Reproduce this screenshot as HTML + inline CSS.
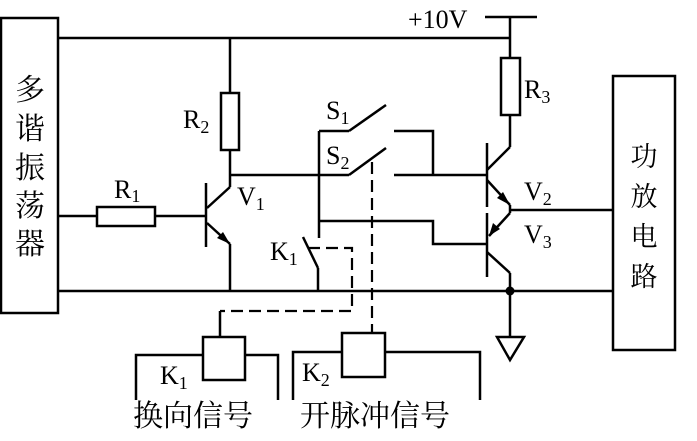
<!DOCTYPE html>
<html><head><meta charset="utf-8"><style>
html,body{margin:0;padding:0;background:#fff;}
svg{display:block;}
text{font-family:"Liberation Serif","Noto Serif CJK SC",serif;fill:#000;}
.c{font-family:"Liberation Serif","Noto Serif CJK SC","Noto Sans CJK SC",serif;}
</style></head><body>
<svg width="697" height="441" viewBox="0 0 697 441" xmlns="http://www.w3.org/2000/svg">
<g stroke="#000" stroke-width="2.5" fill="none">
<rect x="1" y="18" width="57" height="295"/>
<rect x="613" y="76" width="62" height="274"/>
<line x1="58" y1="38" x2="510" y2="38"/>
<line x1="58" y1="291" x2="613" y2="291"/>
<line x1="485" y1="17" x2="537" y2="17"/>
<line x1="510" y1="17" x2="510" y2="58"/>
<rect x="501" y="58" width="19" height="57"/>
<line x1="510" y1="115" x2="510" y2="147"/>
<line x1="58" y1="216" x2="97" y2="216"/>
<rect x="97" y="207" width="58" height="19"/>
<line x1="155" y1="216" x2="206" y2="216"/>
<line x1="206" y1="183" x2="206" y2="247"/>
<line x1="230" y1="38" x2="230" y2="93"/>
<rect x="221" y="93" width="18" height="57"/>
<line x1="230" y1="150" x2="230" y2="187"/>
<line x1="207" y1="208" x2="230" y2="187"/>
<line x1="207" y1="223" x2="230" y2="244"/>
<line x1="230" y1="244" x2="230" y2="291"/>
<line x1="230" y1="175" x2="349" y2="175"/>
<line x1="319" y1="131" x2="319" y2="238"/>
<line x1="319" y1="131" x2="349" y2="131"/>
<line x1="349" y1="131" x2="386" y2="105"/>
<line x1="349" y1="175" x2="386" y2="148"/>
<polyline points="394,131 433,131 433,175"/>
<line x1="394" y1="175" x2="487" y2="175"/>
<polyline points="319,221 433,221 433,244 487,244"/>
<line x1="303" y1="237" x2="318" y2="268"/>
<line x1="318" y1="268" x2="318" y2="291"/>
<line x1="487" y1="143" x2="487" y2="207"/>
<line x1="487" y1="213" x2="487" y2="277"/>
<line x1="487" y1="170" x2="510" y2="147"/>
<line x1="487" y1="180" x2="510" y2="205"/>
<line x1="510" y1="205" x2="510" y2="213"/>
<line x1="510" y1="213" x2="489" y2="236"/>
<line x1="510" y1="210" x2="613" y2="210"/>
<line x1="487" y1="252" x2="510" y2="273"/>
<line x1="510" y1="273" x2="510" y2="337"/>
<polygon points="497,337 524,337 510,360"/>
<rect x="203" y="337" width="42" height="43"/>
<polyline points="136,400 136,355 203,355"/>
<polyline points="245,355 278,355 278,400"/>
<line x1="220" y1="311" x2="220" y2="337"/>
<rect x="342" y="333" width="43" height="44"/>
<polyline points="293,400 293,352 342,352"/>
<polyline points="385,352 480,352 480,400"/>
</g>
<g stroke="#000" stroke-width="2.2" fill="none" stroke-dasharray="12,6">
<polyline points="308,248 352,248 352,311 220,311"/>
<line x1="372" y1="162" x2="372" y2="333"/>
</g>
<polygon points="230,244 217,238 223,232" fill="#000"/>
<polygon points="510,205 497,198 503,192" fill="#000"/>
<polygon points="489,236 493,223 500,229" fill="#000"/>
<circle cx="510" cy="291" r="4.5" fill="#000"/>
<text x="408" y="28" font-size="26">+10V</text>
<text x="114" y="198" font-size="26">R<tspan font-size="18" dy="4">1</tspan></text>
<text x="183" y="128" font-size="26">R<tspan font-size="18" dy="5">2</tspan></text>
<text x="524" y="98" font-size="26">R<tspan font-size="18" dy="5">3</tspan></text>
<text x="237" y="205" font-size="26">V<tspan font-size="18" dy="5">1</tspan></text>
<text x="524" y="200" font-size="26">V<tspan font-size="18" dy="5">2</tspan></text>
<text x="524" y="243" font-size="26">V<tspan font-size="18" dy="5">3</tspan></text>
<text x="326" y="119" font-size="26">S<tspan font-size="18" dy="5">1</tspan></text>
<text x="326" y="164" font-size="26">S<tspan font-size="18" dy="5">2</tspan></text>
<text x="270" y="260" font-size="26">K<tspan font-size="18" dy="5">1</tspan></text>
<text x="160" y="384" font-size="26">K<tspan font-size="18" dy="5">1</tspan></text>
<text x="302" y="381" font-size="26">K<tspan font-size="18" dy="5">2</tspan></text>
<g font-size="30" text-anchor="middle">
<text class="c" x="30" y="100">多</text>
<text class="c" x="30" y="139">谐</text>
<text class="c" x="30" y="178">振</text>
<text class="c" x="30" y="216">荡</text>
<text class="c" x="30" y="254">器</text>
</g>
<g font-size="27" text-anchor="middle">
<text class="c" x="644" y="166">功</text>
<text class="c" x="644" y="206">放</text>
<text class="c" x="644" y="246">电</text>
<text class="c" x="644" y="286">路</text>
</g>
<text class="c" x="133" y="426" font-size="30">换向信号</text>
<text class="c" x="300" y="426" font-size="30">开脉冲信号</text>
</svg>
</body></html>
